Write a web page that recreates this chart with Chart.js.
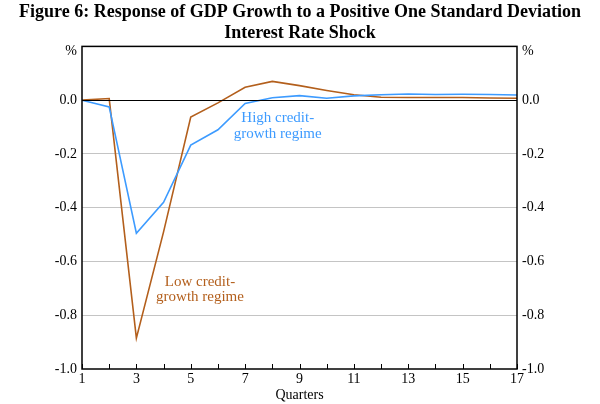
<!DOCTYPE html>
<html>
<head>
<meta charset="utf-8">
<script src="https://cdn.jsdelivr.net/npm/chart.js@4"></script>
<style>
  html, body { margin: 0; padding: 0; background: #fff; }
  #wrap { width: 600px; height: 404px; }
</style>
</head>
<body>
<div id="wrap"><canvas id="myChart"></canvas></div>
<script>
var quarters = [1, 2, 3, 4, 5, 6, 7, 8, 9, 10, 11, 12, 13, 14, 15, 16, 17];
var highCredit = [0.0, -0.025, -0.495, -0.38, -0.167, -0.11, -0.012, 0.009, 0.017, 0.007, 0.016, 0.02, 0.023, 0.021, 0.022, 0.021, 0.019];
var lowCredit = [0.0, 0.006, -0.885, -0.49, -0.063, -0.01, 0.048, 0.07, 0.054, 0.036, 0.02, 0.011, 0.01, 0.01, 0.01, 0.008, 0.007];
var yTicks = [-1.0, -0.8, -0.6, -0.4, -0.2, 0.0, 0.2];

var blue = '#3d9bff';
var brown = '#b35f1c';
var serif = "'Liberation Serif', 'DejaVu Serif', serif";

function toPoints(vals) {
    return quarters.map(function (q, i) { return { x: q, y: vals[i] }; });
}

function yLabel(v) {
    if (Math.abs(v - 0.2) < 1e-6) return '';
    return v.toFixed(1);
}

// box, zero line, inner tick marks, % units and the two series labels
var extras = {
    id: 'extras',
    afterDatasetsDraw: function (chart) {
        var c = chart.ctx, a = chart.chartArea;
        var xs = chart.scales.x, ys = chart.scales.y;
        c.save();
        c.strokeStyle = '#000';
        c.lineWidth = 1;
        var y0 = Math.round(ys.getPixelForValue(0)) + 0.5;
        c.beginPath();
        c.moveTo(a.left, y0); c.lineTo(a.right, y0);
        c.stroke();
        c.lineWidth = 1.5;
        c.strokeRect(a.left, a.top, a.right - a.left, a.bottom - a.top);
        c.lineWidth = 1;
        quarters.forEach(function (q) {
            var px = Math.round(xs.getPixelForValue(q)) + 0.5;
            c.beginPath();
            c.moveTo(px, a.bottom); c.lineTo(px, a.bottom - 5);
            c.stroke();
        });
        c.fillStyle = '#000';
        c.font = '14px ' + serif;
        c.textBaseline = 'middle';
        c.textAlign = 'right';
        c.fillText('%', a.left - 5, a.top + 5);
        c.textAlign = 'left';
        c.fillText('%', a.right + 5, a.top + 5);

        c.font = '15px ' + serif;
        c.textAlign = 'center';
        c.fillStyle = blue;
        c.fillText('High credit-', xs.getPixelForValue(8.2), ys.getPixelForValue(-0.067));
        c.fillText('growth regime', xs.getPixelForValue(8.2), ys.getPixelForValue(-0.126));
        c.fillStyle = brown;
        c.fillText('Low credit-', xs.getPixelForValue(5.34), ys.getPixelForValue(-0.677));
        c.fillText('growth regime', xs.getPixelForValue(5.34), ys.getPixelForValue(-0.732));
        c.restore();
    }
};

var ctx = document.getElementById('myChart');

var yAxis = function (pos, w) {
    return {
        type: 'linear',
        position: pos,
        min: -1.0,
        max: 0.2,
        afterBuildTicks: function (s) { s.ticks = yTicks.map(function (v) { return { value: v }; }); },
        afterFit: function (s) { s.width = w; },
        border: { display: false },
        grid: {
            drawTicks: false,
            drawOnChartArea: pos === 'left',
            color: function (c) {
                var v = c.tick.value;
                if (Math.abs(v) < 1e-6 || v <= -0.99 || v >= 0.19) return 'rgba(0,0,0,0)';
                return '#c4c4c4';
            }
        },
        ticks: {
            padding: 5,
            color: '#000',
            font: { family: serif, size: 14 },
            callback: yLabel
        }
    };
};

var myChart = new Chart(ctx, {
    type: 'line',
    data: {
        datasets: [
            { label: 'High credit-growth regime', data: toPoints(highCredit), borderColor: blue, borderWidth: 1.6, pointRadius: 0, tension: 0, fill: false },
            { label: 'Low credit-growth regime', data: toPoints(lowCredit), borderColor: brown, borderWidth: 1.6, pointRadius: 0, tension: 0, fill: false }
        ]
    },
    options: {
        responsive: true,
        maintainAspectRatio: false,
        animation: false,
        layout: { padding: 0 },
        plugins: {
            legend: { display: false },
            tooltip: { enabled: false },
            title: {
                display: true,
                text: ['Figure 6: Response of GDP Growth to a Positive One Standard Deviation', 'Interest Rate Shock'],
                color: '#000',
                font: { family: serif, size: 18, weight: 'bold', lineHeight: 1.15 },
                padding: { top: 2, bottom: 3 }
            }
        },
        scales: {
            x: {
                type: 'linear',
                min: 1,
                max: 17,
                afterFit: function (s) { s.height = 35; },
                border: { display: false },
                grid: { display: false, drawTicks: false },
                ticks: {
                    stepSize: 1,
                    autoSkip: false,
                    maxRotation: 0,
                    padding: 2,
                    color: '#000',
                    font: { family: serif, size: 14 },
                    callback: function (v) { return v % 2 === 1 ? String(v) : ''; }
                },
                title: {
                    display: true,
                    text: 'Quarters',
                    color: '#000',
                    padding: 0,
                    font: { family: serif, size: 14 }
                }
            },
            y: yAxis('left', 82),
            y2: yAxis('right', 83)
        }
    },
    plugins: [extras]
});
</script>
</body>
</html>
